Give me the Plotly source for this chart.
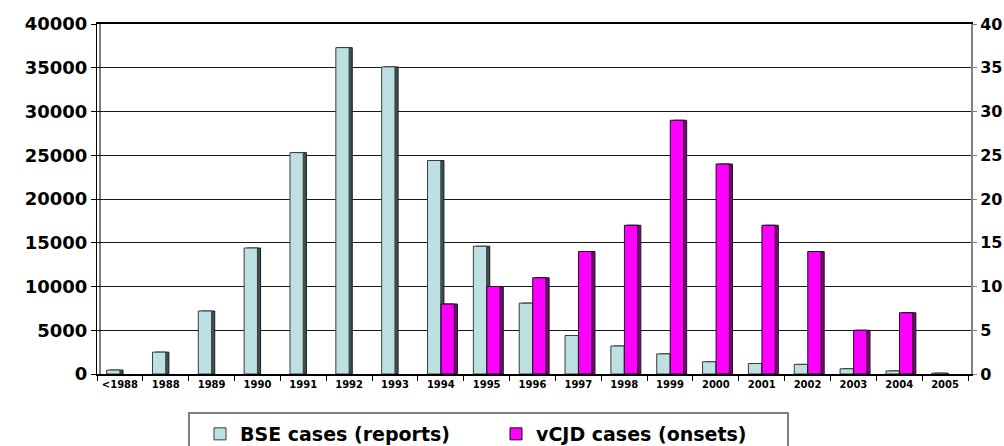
import plotly.graph_objects as go

# Annual case counts
years = ["<1988", "1988", "1989", "1990", "1991", "1992", "1993", "1994", "1995",
         "1996", "1997", "1998", "1999", "2000", "2001", "2002", "2003", "2004", "2005"]
bse_cases = [450, 2500, 7200, 14400, 25300, 37300, 35100, 24400, 14600,
             8100, 4400, 3200, 2300, 1400, 1200, 1100, 600, 350, 100]
vcjd_cases = [None, None, None, None, None, None, None, 8, 10,
              11, 14, 17, 29, 24, 17, 14, 5, 7, None]

left_ticks = list(range(0, 40001, 5000))
right_ticks = list(range(0, 41, 5))

BAR_W = 0.29
SIDE = 0.068          # depth of the darker side face, in category units
FONT = "DejaVu Sans"

# plot area in pixels: x 97..971, y 24..374
PX_L, PX_R, PX_T, PX_B = 97, 971, 24, 374
def px_x(p):
    return (p - PX_L) / (PX_R - PX_L)
def px_y(p):
    return (PX_B - p) / (PX_B - PX_T)

fig = go.Figure()

# darker side faces sit behind the front faces to give the bars depth
fig.add_trace(go.Bar(x=years, y=bse_cases, offset=-BAR_W + SIDE, width=BAR_W,
                     marker=dict(color="#3d5253", line=dict(color="#1a1a1a", width=1)),
                     showlegend=False, hoverinfo="skip"))
fig.add_trace(go.Bar(x=years, y=bse_cases, offset=-BAR_W, width=BAR_W,
                     name="BSE cases (reports)",
                     marker=dict(color="#bde0e3", line=dict(color="#3a3a3a", width=1))))
fig.add_trace(go.Bar(x=years, y=vcjd_cases, offset=0.005 + SIDE, width=BAR_W,
                     yaxis="y2", marker=dict(color="#800080", line=dict(color="#1a1a1a", width=1)),
                     showlegend=False, hoverinfo="skip"))
fig.add_trace(go.Bar(x=years, y=vcjd_cases, offset=0.005, width=BAR_W,
                     yaxis="y2", name="vCJD cases (onsets)",
                     marker=dict(color="#ff00ff", line=dict(color="#111111", width=1))))

fig.update_layout(
    width=1004, height=446,
    margin=dict(l=PX_L, r=1004 - PX_R, t=PX_T, b=446 - PX_B, autoexpand=False),
    paper_bgcolor="white", plot_bgcolor="white",
    barmode="overlay",
    font=dict(family=FONT, color="black"),
    xaxis=dict(
        type="category", range=[-0.5, 18.5 + 3 / 45.84],
        tickson="boundaries", ticks="outside", ticklen=5, tickcolor="black",
        showline=True, linecolor="black", linewidth=2, mirror=True,
        showgrid=False,
        tickfont=dict(family=FONT, size=10, color="black", weight="bold"),
    ),
    yaxis=dict(
        range=[0, 40000], tickvals=left_ticks, tickformat="d",
        ticks="outside", ticklen=5, tickcolor="black",
        showline=True, linecolor="black", linewidth=1,
        showgrid=True, gridcolor="#1a1a1a", gridwidth=1,
        zeroline=False,
        tickfont=dict(family=FONT, size=18, color="black", weight="bold"),
    ),
    yaxis2=dict(
        overlaying="y", side="right",
        range=[0, 40], tickvals=right_ticks,
        ticks="outside", ticklen=4, tickcolor="#808080",
        showline=True, linecolor="#808080", linewidth=2,
        showgrid=False, zeroline=False,
        tickfont=dict(family=FONT, size=16, color="black", weight="bold"),
    ),
    legend=dict(
        orientation="h", x=200 / 1004, xanchor="left",
        y=(446 - 415) / 446, yanchor="top", xref="container", yref="container",
        borderwidth=0, bgcolor="rgba(0,0,0,0)",
        font=dict(family=FONT, size=19, color="black", weight="bold"),
        entrywidth=251, itemwidth=30,
    ),
    shapes=[
        # inner edge of the left wall
        dict(type="line", xref="paper", yref="paper", xsizemode="pixel", xanchor=0,
             x0=3, x1=3, y0=0, y1=1, line=dict(color="black", width=1)),
        # legend frame
        dict(type="rect", xref="paper", yref="paper", layer="below",
             x0=px_x(189), x1=px_x(788), y0=px_y(413), y1=px_y(470),
             line=dict(color="#808080", width=2), fillcolor="white"),
    ],
)

fig.write_html("out.html")
